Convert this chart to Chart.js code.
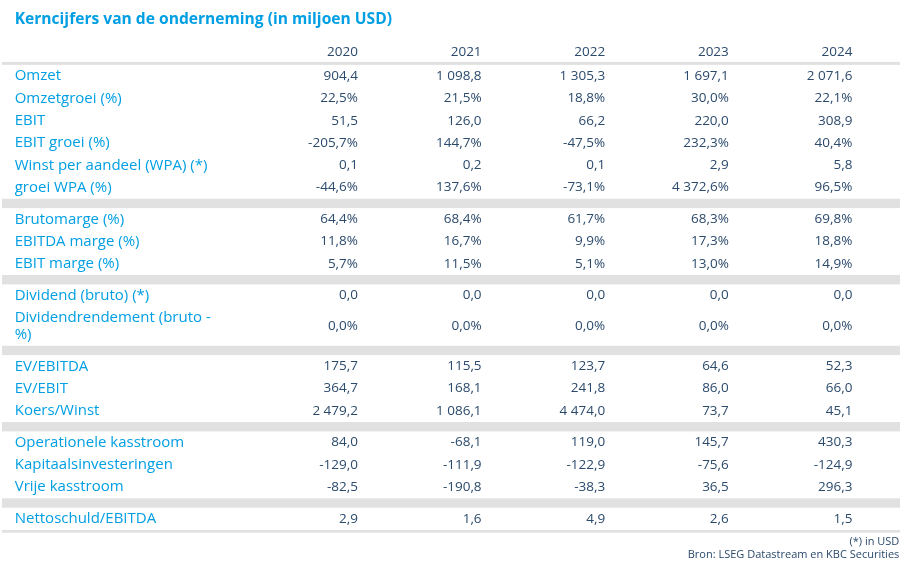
<!DOCTYPE html>
<html>
<head>
<meta charset="utf-8">
<script src="https://cdn.jsdelivr.net/npm/chart.js@4.4.1/dist/chart.umd.min.js"></script>
<style>
  html, body { margin: 0; padding: 0; background: #ffffff; }
  #wrap { width: 915px; height: 573px; }
</style>
</head>
<body>
<div id="wrap"><canvas id="kpiChart"></canvas></div>
<script>
// Kerncijfers table - drawn on a Chart.js canvas
const years = ['2020', '2021', '2022', '2023', '2024'];

const omzet = [904.4, 1098.8, 1305.3, 1697.1, 2071.6];
const omzetgroei = [22.5, 21.5, 18.8, 30.0, 22.1];
const ebit = [51.5, 126.0, 66.2, 220.0, 308.9];
const ebitGroei = [-205.7, 144.7, -47.5, 232.3, 40.4];
const wpa = [0.1, 0.2, 0.1, 2.9, 5.8];
const groeiWpa = [-44.6, 137.6, -73.1, 4372.6, 96.5];

const brutomarge = [64.4, 68.4, 61.7, 68.3, 69.8];
const ebitdaMarge = [11.8, 16.7, 9.9, 17.3, 18.8];
const ebitMarge = [5.7, 11.5, 5.1, 13.0, 14.9];

const dividend = [0.0, 0.0, 0.0, 0.0, 0.0];
const dividendRendement = [0.0, 0.0, 0.0, 0.0, 0.0];

const evEbitda = [175.7, 115.5, 123.7, 64.6, 52.3];
const evEbit = [364.7, 168.1, 241.8, 86.0, 66.0];
const koersWinst = [2479.2, 1086.1, 4474.0, 73.7, 45.1];

const operationeleKasstroom = [84.0, -68.1, 119.0, 145.7, 430.3];
const kapitaalsinvesteringen = [-129.0, -111.9, -122.9, -75.6, -124.9];
const vrijeKasstroom = [-82.5, -190.8, -38.3, 36.5, 296.3];

const nettoschuldEbitda = [2.9, 1.6, 4.9, 2.6, 1.5];

// Row groups (separated by grey bands)
const groups = [
    [
        { label: ['Omzet'], values: omzet },
        { label: ['Omzetgroei (%)'], values: omzetgroei, pct: true },
        { label: ['EBIT'], values: ebit },
        { label: ['EBIT groei (%)'], values: ebitGroei, pct: true },
        { label: ['Winst per aandeel (WPA) (*)'], values: wpa },
        { label: ['groei WPA (%)'], values: groeiWpa, pct: true }
    ],
    [
        { label: ['Brutomarge (%)'], values: brutomarge, pct: true },
        { label: ['EBITDA marge (%)'], values: ebitdaMarge, pct: true },
        { label: ['EBIT marge (%)'], values: ebitMarge, pct: true }
    ],
    [
        { label: ['Dividend (bruto) (*)'], values: dividend },
        { label: ['Dividendrendement (bruto -', '%)'], values: dividendRendement, pct: true }
    ],
    [
        { label: ['EV/EBITDA'], values: evEbitda },
        { label: ['EV/EBIT'], values: evEbit },
        { label: ['Koers/Winst'], values: koersWinst }
    ],
    [
        { label: ['Operationele kasstroom'], values: operationeleKasstroom },
        { label: ['Kapitaalsinvesteringen'], values: kapitaalsinvesteringen },
        { label: ['Vrije kasstroom'], values: vrijeKasstroom }
    ],
    [
        { label: ['Nettoschuld/EBITDA'], values: nettoschuldEbitda }
    ]
];

const TITLE = 'Kerncijfers van de onderneming (in miljoen USD)';
const NOTES = ['(*) in USD', 'Bron: LSEG Datastream en KBC Securities'];

const BLUE = '#009fe3';
const TEXT = '#2b4a6c';
const GREY = '#e1e1e1';
const FONT = '"Open Sans", "Noto Sans", sans-serif';

// Row layout in row units
const BAND = 0.42;
const TALL = 1.75;

function formatValue(v, pct) {
    const parts = Math.abs(v).toFixed(1).split('.');
    const int = parts[0].replace(/\B(?=(\d{3})+(?!\d))/g, ' ');
    return (v < 0 ? '-' : '') + int + ',' + parts[1] + (pct ? '%' : '');
}

let cursor = 0;
const bands = [];
const datasets = [];
groups.forEach((group, gi) => {
    if (gi > 0) {
        bands.push([cursor, cursor + BAND]);
        cursor += BAND;
    }
    group.forEach(row => {
        const h = row.label.length > 1 ? TALL : 1;
        const yPos = cursor + h / 2;
        cursor += h;
        datasets.push({
            label: row.label.join(' '),
            rowLabel: row.label,
            pct: !!row.pct,
            values: row.values,
            data: row.values.map((v, i) => ({ x: i, y: yPos })),
            pointRadius: 0,
            pointHoverRadius: 0,
            showLine: false
        });
    });
});
const totalUnits = cursor;

const tablePlugin = {
    id: 'tablePlugin',
    beforeDatasetsDraw(chart) {
        const { ctx, chartArea } = chart;
        const y = chart.scales.y;
        const w = chartArea.right - chartArea.left;
        ctx.save();
        ctx.fillStyle = GREY;
        // header and bottom rule
        ctx.fillRect(chartArea.left, chartArea.top - 3, w, 3);
        ctx.fillRect(chartArea.left, chartArea.bottom, w, 2.7);
        bands.forEach(b => {
            const y0 = y.getPixelForValue(b[0]);
            const y1 = y.getPixelForValue(b[1]);
            ctx.fillRect(chartArea.left, y0, w, y1 - y0);
        });
        ctx.restore();
    },
    afterDatasetsDraw(chart) {
        const { ctx, chartArea } = chart;
        const labelX = chartArea.left + 12.7;
        ctx.save();
        ctx.textBaseline = 'middle';
        chart.data.datasets.forEach((ds, di) => {
            const meta = chart.getDatasetMeta(di);
            const rowY = meta.data[0].y;
            // row label
            ctx.font = '15px ' + FONT;
            ctx.fillStyle = BLUE;
            ctx.textAlign = 'left';
            const n = ds.rowLabel.length;
            ds.rowLabel.forEach((line, li) => {
                ctx.fillText(line, labelX, rowY + (li - (n - 1) / 2) * 16.6);
            });
            // cells
            ctx.font = '13.5px ' + FONT;
            ctx.fillStyle = TEXT;
            ctx.textAlign = 'right';
            meta.data.forEach((pt, i) => {
                ctx.fillText(formatValue(ds.values[i], ds.pct), pt.x, pt.y);
            });
        });
        // title
        ctx.font = 'bold 15.6px ' + FONT;
        ctx.fillStyle = BLUE;
        ctx.textAlign = 'left';
        ctx.fillText(TITLE, labelX, 20);
        // notes
        ctx.font = '11px ' + FONT;
        ctx.fillStyle = TEXT;
        ctx.textAlign = 'right';
        ctx.fillText(NOTES[0], chartArea.right - 0.7, 542.3);
        ctx.fillText(NOTES[1], chartArea.right - 0.7, 555);
        ctx.restore();
    }
};

new Chart(document.getElementById('kpiChart'), {
    type: 'scatter',
    data: { datasets },
    options: {
        responsive: true,
        maintainAspectRatio: false,
        animation: false,
        events: [],
        layout: { padding: { left: 2, right: 15, top: 38.7, bottom: 43 } },
        plugins: {
            legend: { display: false },
            tooltip: { enabled: false },
            title: { display: false }
        },
        scales: {
            x: {
                type: 'linear',
                position: 'top',
                min: -2.88,
                max: 4.385,
                afterBuildTicks: scale => {
                    scale.ticks = years.map((_, i) => ({ value: i }));
                },
                ticks: {
                    align: 'end',
                    padding: 5,
                    maxRotation: 0,
                    autoSkip: false,
                    color: TEXT,
                    font: { family: FONT, size: 13.5 },
                    callback: v => years[v]
                },
                grid: { display: false, drawTicks: false },
                border: { display: false }
            },
            y: {
                type: 'linear',
                display: false,
                reverse: true,
                min: 0,
                max: totalUnits
            }
        }
    },
    plugins: [tablePlugin]
});
</script>
</body>
</html>
